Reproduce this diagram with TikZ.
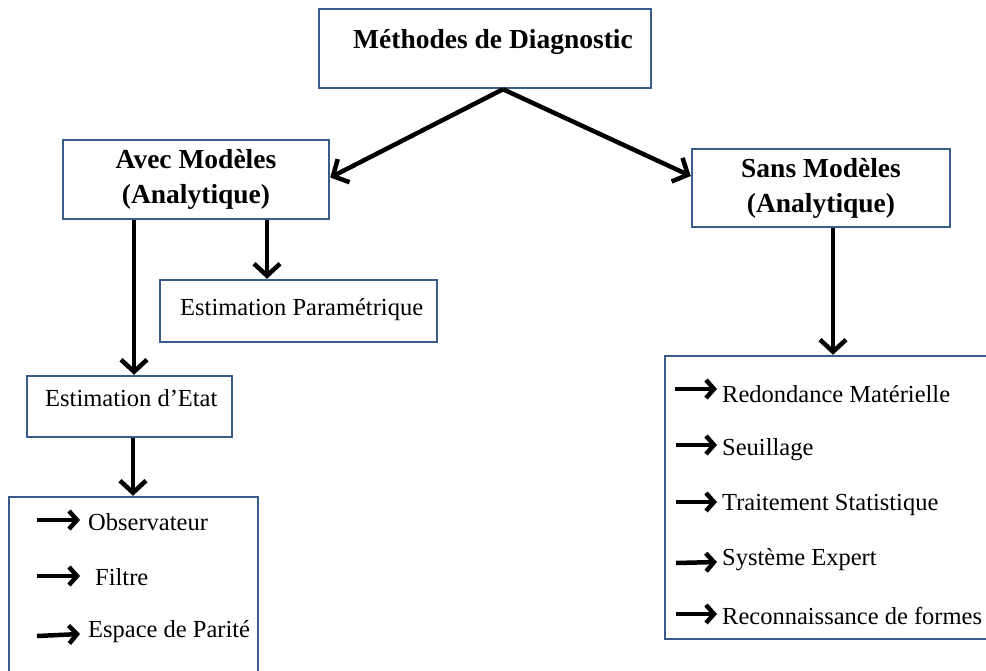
\documentclass[tikz,border=0pt]{standalone}
\usepackage{fontspec}
\setmainfont{Liberation Serif}
\usetikzlibrary{arrows.meta,positioning}
\definecolor{boxblue}{RGB}{56,93,138}
\begin{document}
\begin{tikzpicture}[x=1pt,y=-1pt,
  box/.style={draw=boxblue,line width=2.5pt,fill=white,rectangle,inner sep=0pt},
  btxt/.style={font=\fontsize{27.5}{35}\selectfont\bfseries,align=center,inner sep=0pt},
  ntxt/.style={font=\fontsize{24.5}{29}\selectfont,inner sep=0pt},
  arr/.style={line width=4.5pt,-{Straight Barb[length=12pt,width=26pt]}},
  bul/.style={line width=4.5pt,-{Straight Barb[length=8pt,width=18pt]}}]
\useasboundingbox (0,0) rectangle (986,670);
\clip (0,0) rectangle (986,670);
% boxes
\node[box,minimum width=332pt,minimum height=79pt] (top) at (485,48.5) {};
\node[btxt] (toptxt) at (493,42) {Méthodes de Diagnostic};
\node[box,minimum width=266pt,minimum height=79pt,btxt,draw=boxblue,line width=2.5pt] (avec) at (196,179.5) {Avec Modèles\\(Analytique)};
\node[box,minimum width=258pt,minimum height=78pt,btxt,draw=boxblue,line width=2.5pt] (sans) at (821,188) {Sans Modèles\\(Analytique)};
\node[box,minimum width=277pt,minimum height=62pt] (param) at (298.5,311) {};
\node[ntxt,anchor=west] (paramtxt) at (180,310) {Estimation Paramétrique};
\node[box,minimum width=205pt,minimum height=61pt] (etat) at (129.5,406.5) {};
\node[ntxt,anchor=west] (etattxt) at (45,398) {Estimation d’Etat};
\node[box,minimum width=249pt,minimum height=190pt] (liste1) at (133.5,592) {};
\node[box,minimum width=330pt,minimum height=283pt] (liste2) at (830,497.5) {};
% connectors
\draw[arr] ([xshift=18pt]top.south) -- ([yshift=2pt]avec.east);
\draw[arr] ([xshift=18pt]top.south) -- ([yshift=12pt]sans.west);
\draw[arr] ([xshift=-62pt]avec.south) -- ([xshift=-62pt]avec.south |- etat.north);
\draw[arr] ([xshift=71pt]avec.south) -- ([xshift=71pt]avec.south |- param.north);
\draw[arr] ([xshift=12pt]sans.south) -- ([xshift=12pt]sans.south |- liste2.north);
\draw[arr] ([xshift=3.5pt]etat.south) -- ([xshift=3.5pt]etat.south |- liste1.north);
% left list
\node[ntxt,anchor=west] (obs) at (88,522) {Observateur};
\node[ntxt,anchor=west] (fil) at (95,577) {Filtre};
\node[ntxt,anchor=west] (esp) at (88,632) {Espace de Parité};
\coordinate (b1) at (37,520);
\coordinate (b2) at (37,576);
\coordinate (b3) at (37,636);
\draw[bul] (b1) -- ++(43,0);
\draw[bul] (b2) -- ++(43,0);
\draw[bul] (b3) -- ++(43,-2);
% right list
\node[ntxt,anchor=west] (r1) at (722,394) {Redondance Matérielle};
\node[ntxt,anchor=west] (r2) at (722,450) {Seuillage};
\node[ntxt,anchor=west] (r3) at (722,505) {Traitement Statistique};
\node[ntxt,anchor=west] (r4) at (722,560) {Système Expert};
\node[ntxt,anchor=west] (r5) at (722,616) {Reconnaissance de formes};
\coordinate (c1) at (675,389);
\coordinate (c2) at (676,445);
\coordinate (c3) at (676,502);
\coordinate (c4) at (676,563);
\coordinate (c5) at (676,614);
\draw[bul] (c1) -- ++(42,0);
\draw[bul] (c2) -- ++(41,0);
\draw[bul] (c3) -- ++(41,0);
\draw[bul] (c4) -- ++(41,-1);
\draw[bul] (c5) -- ++(41,0);
\end{tikzpicture}
\end{document}
